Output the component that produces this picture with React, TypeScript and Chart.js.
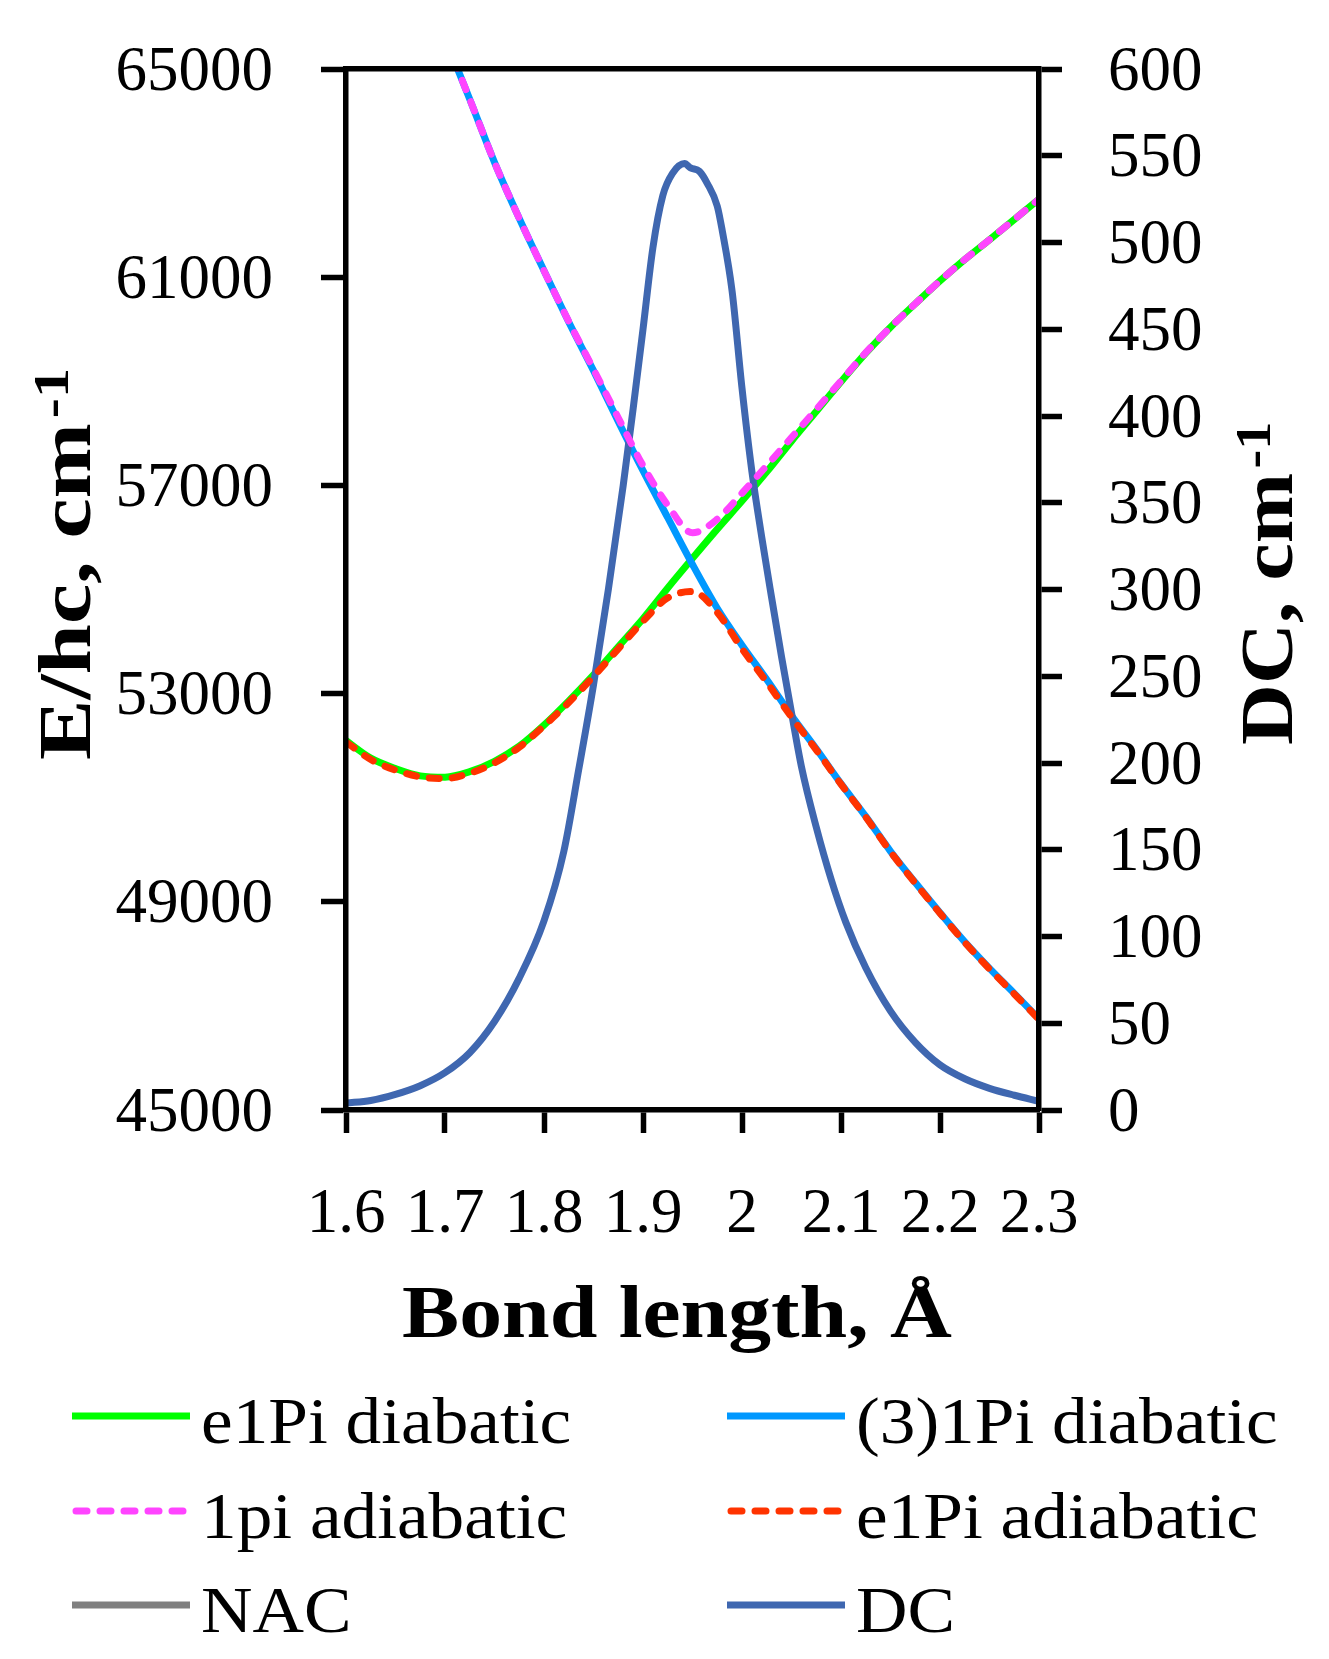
import React, { useEffect, useRef } from 'react';
import { Chart, registerables } from 'chart.js';

Chart.register(...registerables);

// bond length grid (Å) shared by the four potential curves
const bondLength = [
  1.6, 1.625, 1.65, 1.675, 1.7, 1.725, 1.75, 1.775, 1.8, 1.825, 1.85, 1.875, 1.9, 1.925, 1.95,
  1.975, 2.0, 2.025, 2.05, 2.075, 2.1, 2.125, 2.15, 2.175, 2.2, 2.225, 2.25, 2.275, 2.3,
];

// E/hc, cm-1
const e1PiDiabatic = [
  52095, 51760, 51560, 51420, 51395, 51500, 51700, 51990, 52395, 52860, 53360, 53900, 54440, 55030, 55600,
  56160, 56700, 57260, 57850, 58420, 58990, 59540, 60040, 60490, 60930, 61340, 61720, 62110, 62500,
];
const pi3Diabatic = [
  null, null, null, null, 65600, 64420, 63207, 62130, 61125, 60140, 59204, 58230, 57283, 56380, 55480,
  54640, 53930, 53270, 52580, 51940, 51270, 50640, 49970, 49370, 48790, 48230, 47720, 47240, 46750,
];
const pi1Adiabatic = [
  null, null, null, null, 65600, 64420, 63207, 62130, 61125, 60150, 59230, 58300, 57380, 56620, 56090,
  56350, 56850, 57380, 57920, 58460, 59005, 59550, 60040, 60490, 60930, 61340, 61720, 62110, 62500,
];
const e1PiAdiabatic = [
  52070, 51735, 51530, 51400, 51370, 51470, 51670, 51970, 52380, 52830, 53330, 53860, 54390, 54840, 54960,
  54560, 53860, 53220, 52550, 51920, 51260, 50630, 49960, 49360, 48780, 48220, 47710, 47230, 46740,
];

// DC, cm-1 on its own grid (finer round the peak)
const dcBondLength = [
  1.6, 1.625, 1.65, 1.675, 1.7, 1.725, 1.75, 1.775, 1.8, 1.82, 1.835, 1.85, 1.865, 1.88, 1.89, 1.9,
  1.91, 1.92, 1.93, 1.942, 1.948, 1.957, 1.965, 1.975, 1.98, 1.99, 2.0, 2.01, 2.02, 2.03, 2.04, 2.05,
  2.06, 2.075, 2.09, 2.105, 2.125, 2.15, 2.175, 2.2, 2.225, 2.25, 2.275, 2.3,
];
const dcValues = [
  4, 5.5, 9, 14, 21.5, 33, 51, 76, 109, 149, 196, 245, 300, 360, 404, 450,
  497, 527, 540, 545.5, 543, 541, 534, 521, 507, 472, 416, 368, 330, 295, 261, 229,
  198, 163, 133, 108, 82, 57, 39, 26, 18, 12.5, 8.5, 5,
];
const nacValues: number[] = [];

const bondTicks = [1.6, 1.7, 1.8, 1.9, 2.0, 2.1, 2.2, 2.3];
const energyTicks = [45000, 49000, 53000, 57000, 61000, 65000];
const dcTicks = [0, 50, 100, 150, 200, 250, 300, 350, 400, 450, 500, 550, 600];

const FONT = "'Liberation Serif', 'Times New Roman', serif";
const LEGEND_COLS = [72, 727];
const LEGEND_ROWS = [1416, 1511, 1605];

const points = (xs: number[], ys: (number | null)[]) =>
  xs.map((x, i) => ({ x, y: ys[i] })).filter((p) => p.y !== null);

const fitText = (ctx: CanvasRenderingContext2D, text: string, x: number, y: number, width: number) => {
  const sx = width / ctx.measureText(text).width;
  ctx.save();
  ctx.translate(x, y);
  ctx.scale(sx, 1);
  ctx.fillText(text, 0, 0);
  ctx.restore();
};

// vertical axis title reading bottom to top, with a superscript
const rotatedTitle = (ctx: CanvasRenderingContext2D, main: string, sup: string, baseX: number, startY: number, length: number) => {
  ctx.save();
  ctx.translate(baseX, startY);
  ctx.rotate(-Math.PI / 2);
  ctx.font = `bold 75px ${FONT}`;
  const w = ctx.measureText(main).width;
  ctx.scale(length / w, 1);
  ctx.fillText(main, 0, 0);
  ctx.font = `bold 50px ${FONT}`;
  ctx.fillText(sup, w + 4, -22);
  ctx.restore();
};

const titlesAndLegend = {
  id: 'titlesAndLegend',
  afterDraw(chart: any) {
    const ctx: CanvasRenderingContext2D = chart.ctx;
    ctx.save();
    ctx.fillStyle = '#000';
    ctx.textAlign = 'left';
    ctx.textBaseline = 'alphabetic';

    ctx.font = `bold 75px ${FONT}`;
    fitText(ctx, 'Bond length, Å', 402, 1337, 550);
    rotatedTitle(ctx, 'E/hc, cm', '-1', 90, 760, 337);
    rotatedTitle(ctx, 'DC, cm', '-1', 1292, 745, 272);

    chart.data.datasets.forEach((ds: any, i: number) => {
      const x0 = LEGEND_COLS[i % 2];
      const y0 = LEGEND_ROWS[Math.floor(i / 2)];
      ctx.beginPath();
      ctx.strokeStyle = ds.borderColor;
      ctx.lineWidth = 7;
      if (ds.borderDash) {
        ctx.setLineDash([11, 13]);
        ctx.lineCap = 'round';
        ctx.moveTo(x0 + 4, y0);
        ctx.lineTo(x0 + 116, y0);
      } else {
        ctx.setLineDash([]);
        ctx.lineCap = 'butt';
        ctx.moveTo(x0, y0);
        ctx.lineTo(x0 + 118, y0);
      }
      ctx.stroke();
      ctx.setLineDash([]);

      ctx.font = `66px ${FONT}`;
      ctx.save();
      ctx.translate(x0 + 129, y0 + 27);
      ctx.scale(1.08, 1);
      ctx.fillText(ds.label, 0, 0);
      ctx.restore();
    });
    ctx.restore();
  },
};

const axisLine = { display: true, color: '#000', width: 5.5, z: 1 };

const App = () => {
  const chartRef = useRef<HTMLCanvasElement>(null);
  const chartInstance = useRef<Chart | null>(null);

  useEffect(() => {
    document.body.style.margin = '0';
    document.body.style.overflow = 'hidden';
    if (!chartRef.current) return;
    const ctx = chartRef.current.getContext('2d');
    if (!ctx) return;
    if (chartInstance.current) chartInstance.current.destroy();

    const tickFont = { family: FONT, size: 63, lineHeight: 1 };
    const verticalFit = (width: number) => (scale: any) => {
      scale.width = width;
      scale.paddingTop = 0;
      scale.paddingBottom = 0;
    };

    chartInstance.current = new Chart(ctx, {
      type: 'line',
      data: {
        datasets: [
          {
            label: 'e1Pi diabatic',
            data: points(bondLength, e1PiDiabatic),
            borderColor: '#00FF00',
            borderWidth: 7,
            yAxisID: 'y',
            order: 5,
          },
          {
            label: '(3)1Pi diabatic',
            data: points(bondLength, pi3Diabatic),
            borderColor: '#0098FF',
            borderWidth: 7,
            yAxisID: 'y',
            order: 4,
          },
          {
            label: '1pi adiabatic',
            data: points(bondLength, pi1Adiabatic),
            borderColor: '#FF44FF',
            borderWidth: 7,
            borderDash: [10, 13],
            borderCapStyle: 'round',
            yAxisID: 'y',
            order: 1,
          },
          {
            label: 'e1Pi adiabatic',
            data: points(bondLength, e1PiAdiabatic),
            borderColor: '#FF3300',
            borderWidth: 7,
            borderDash: [10, 13],
            borderCapStyle: 'round',
            yAxisID: 'y',
            order: 2,
          },
          {
            label: 'NAC',
            data: points(dcBondLength, nacValues),
            borderColor: '#808080',
            borderWidth: 7,
            yAxisID: 'y2',
            order: 6,
          },
          {
            label: 'DC',
            data: points(dcBondLength, dcValues),
            borderColor: '#3F67B0',
            borderWidth: 7,
            yAxisID: 'y2',
            order: 3,
          },
        ],
      },
      options: {
        animation: false,
        responsive: true,
        maintainAspectRatio: false,
        layout: { padding: { top: 69, left: 0, right: 0, bottom: 0 } },
        elements: {
          point: { radius: 0 },
          line: { cubicInterpolationMode: 'monotone', fill: false },
        },
        plugins: {
          legend: { display: false },
          tooltip: { enabled: false },
        },
        scales: {
          x: {
            type: 'linear',
            position: 'bottom',
            min: 1.6,
            max: 2.3,
            afterBuildTicks: (scale: any) => {
              scale.ticks = bondTicks.map((value) => ({ value }));
            },
            afterFit: (scale: any) => {
              scale.height = 549;
            },
            ticks: {
              autoSkip: false,
              maxRotation: 0,
              minRotation: 0,
              padding: 51,
              color: '#000',
              font: tickFont,
              callback: (v: any) => String(v),
            },
            grid: { drawOnChartArea: false, drawTicks: true, tickLength: 23, tickWidth: 5.5, tickColor: '#000' },
            border: axisLine,
          },
          xTop: {
            type: 'linear',
            position: 'top',
            min: 1.6,
            max: 2.3,
            afterFit: (scale: any) => {
              scale.height = 0;
            },
            ticks: { display: false },
            grid: { drawOnChartArea: false, drawTicks: false },
            border: axisLine,
          },
          y: {
            type: 'linear',
            position: 'left',
            min: 45000,
            max: 65000,
            afterBuildTicks: (scale: any) => {
              scale.ticks = energyTicks.map((value) => ({ value }));
            },
            afterFit: verticalFit(346),
            ticks: {
              autoSkip: false,
              padding: 48,
              labelOffset: 4,
              color: '#000',
              font: tickFont,
              callback: (v: any) => String(v),
            },
            grid: { drawOnChartArea: false, drawTicks: true, tickLength: 25, tickWidth: 5.5, tickColor: '#000' },
            border: axisLine,
          },
          y2: {
            type: 'linear',
            position: 'right',
            min: 0,
            max: 600,
            afterBuildTicks: (scale: any) => {
              scale.ticks = dcTicks.map((value) => ({ value }));
            },
            afterFit: verticalFit(290),
            ticks: {
              autoSkip: false,
              padding: 46,
              labelOffset: 4,
              color: '#000',
              font: tickFont,
              callback: (v: any) => String(v),
            },
            grid: { drawOnChartArea: false, drawTicks: true, tickLength: 23, tickWidth: 5.5, tickColor: '#000' },
            border: axisLine,
          },
        },
      } as any,
      plugins: [titlesAndLegend],
    });

    return () => {
      if (chartInstance.current) {
        chartInstance.current.destroy();
        chartInstance.current = null;
      }
    };
  }, []);

  return (
    <div style={{ position: 'relative', width: 1329, height: 1659, background: '#fff' }}>
      <canvas ref={chartRef}></canvas>
    </div>
  );
};

export default App;
